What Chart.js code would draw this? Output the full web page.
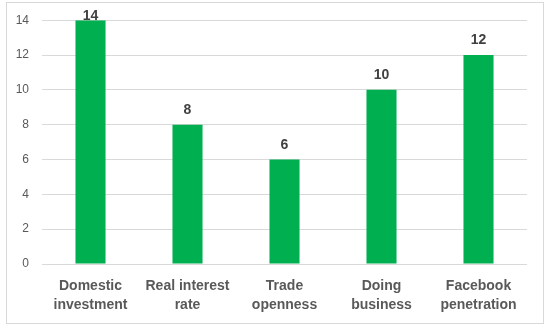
<!DOCTYPE html>
<html><head><meta charset="utf-8">
<script src="https://cdn.jsdelivr.net/npm/chart.js@4/dist/chart.umd.min.js"></script>
<style>html,body{margin:0;padding:0;background:#fff}#w{width:549px;height:327px}</style>
</head><body><div id="w"><canvas id="c" width="549" height="327"></canvas></div>
<script>
const categories = [["Domestic","investment"],["Real interest","rate"],["Trade","openness"],["Doing","business"],["Facebook","penetration"]];
const values = [14, 8, 6, 10, 12];
const yTicks = [0, 2, 4, 6, 8, 10, 12, 14];

const borderPlugin = {
  id: 'border',
  afterDraw(chart) {
    const ctx = chart.ctx;
    ctx.save();
    ctx.strokeStyle = '#d9d9d9';
    ctx.lineWidth = 1;
    ctx.strokeRect(6.5, 2.5, 537, 321);
    ctx.restore();
  }
};
const labelPlugin = {
  id: 'vals',
  afterDatasetsDraw(chart) {
    const ctx = chart.ctx;
    const meta = chart.getDatasetMeta(0);
    ctx.save();
    ctx.font = 'bold 14px "Liberation Sans"';
    ctx.fillStyle = '#404040';
    ctx.textAlign = 'center';
    ctx.textBaseline = 'alphabetic';
    meta.data.forEach((bar, i) => {
      const yb = Math.max(bar.y - 11, 20);
      ctx.fillText(String(chart.data.datasets[0].data[i]), bar.x, yb);
    });
    ctx.restore();
  }
};

new Chart(document.getElementById('c'), {
  type: 'bar',
  data: { labels: categories, datasets: [{ data: values, backgroundColor: '#00B050', barPercentage: 0.31, categoryPercentage: 1 }] },
  options: {
    responsive: false, animation: false,
    layout: { padding: { left: 0, right: 22, top: 16, bottom: 0 } },
    plugins: { legend: { display: false }, tooltip: { enabled: false } },
    scales: {
      x: {
        grid: { display: false, drawTicks: false },
        border: { display: false },
        ticks: { color: '#595959', font: { family: 'Liberation Sans', size: 14, weight: 'bold', lineHeight: 1.35 }, padding: 13, maxRotation: 0, autoSkip: false },
        afterFit(s) { s.height = 63; }
      },
      y: {
        min: 0, max: 14,
        afterBuildTicks(s) { s.ticks = yTicks.map(v => ({ value: v })); },
        grid: { color: '#d9d9d9', drawTicks: false },
        border: { display: false },
        ticks: { color: '#595959', font: { family: 'Liberation Sans', size: 12 }, padding: 13 },
        afterFit(s) { s.width = 42; }
      }
    }
  },
  plugins: [borderPlugin, labelPlugin]
});
</script></body></html>
